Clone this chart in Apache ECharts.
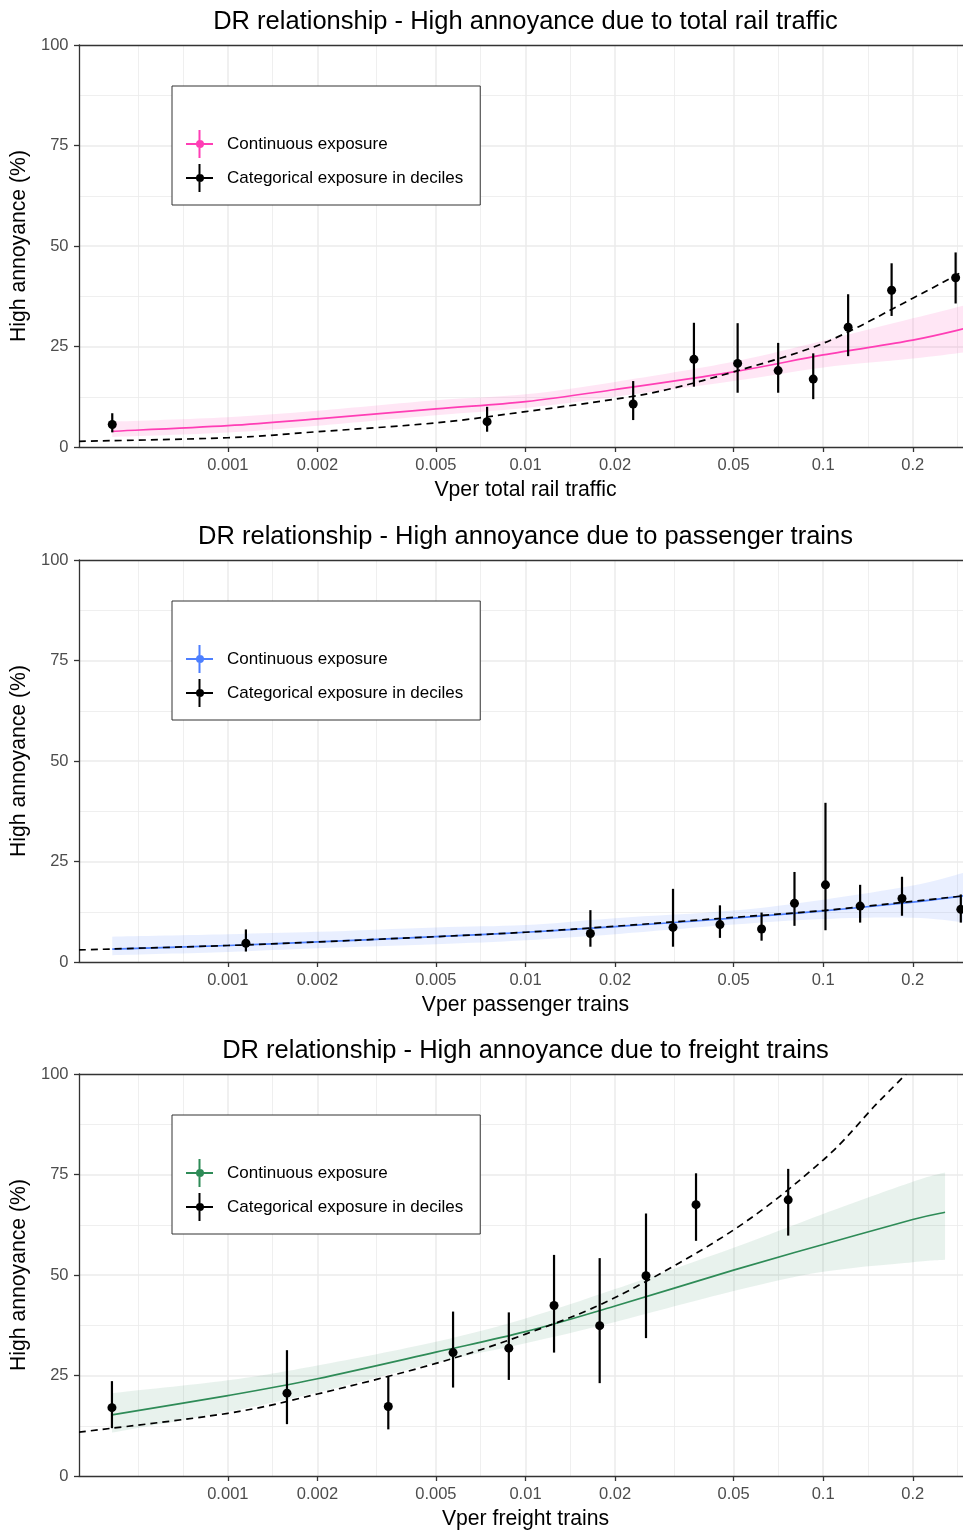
<!DOCTYPE html>
<html><head><meta charset="utf-8">
<script src="https://cdn.jsdelivr.net/npm/echarts@6/dist/echarts.min.js"></script>
<style>html,body{margin:0;padding:0;background:#fff}#c{width:963px;height:1530px}</style>
</head><body><div id="c"></div>
<script>
// ---------- data ----------
const tickValues = [0.001, 0.002, 0.005, 0.01, 0.02, 0.05, 0.1, 0.2];
const tickLabels = ['0.001', '0.002', '0.005', '0.01', '0.02', '0.05', '0.1', '0.2'];
const yTicks = [0, 25, 50, 75, 100];
const titles = ['DR relationship - High annoyance due to total rail traffic',
  'DR relationship - High annoyance due to passenger trains',
  'DR relationship - High annoyance due to freight trains'];
const xNames = ['Vper total rail traffic', 'Vper passenger trains', 'Vper freight trains'];
const yName = 'High annoyance (%)';
const legendNames = ['Continuous exposure', 'Categorical exposure in deciles'];

// Panel 1: total rail traffic
const catX1 = [0.000409, 0.00743, 0.0230, 0.0368, 0.0516, 0.0706, 0.0926, 0.1213, 0.1698, 0.2786];
const catY1 = [5.6, 6.3, 10.7, 21.8, 20.8, 19.0, 16.9, 29.8, 39.0, 42.1];
const catLo1 = [3.65, 3.8, 6.7, 15.0, 13.5, 13.5, 11.9, 22.6, 32.6, 35.7];
const catHi1 = [8.4, 10.0, 16.4, 30.9, 30.8, 25.9, 23.3, 38.0, 45.7, 48.4];
const contX1 = [0.000409, 0.001, 0.002, 0.005, 0.01, 0.02, 0.05, 0.1, 0.2, 0.3];
const contY1 = [3.9, 5.3, 7.0, 9.5, 11.3, 14.3, 18.7, 22.9, 26.6, 29.5];
const contLo1 = [2.5, 3.6, 5.3, 7.9, 9.7, 12.5, 16.4, 19.8, 22.0, 23.6];
const contHi1 = [6.3, 7.4, 9.0, 11.6, 13.1, 16.2, 21.2, 26.4, 32.0, 35.3];
const dashX1 = [0.000316, 0.001, 0.002, 0.005, 0.01, 0.02, 0.03, 0.05, 0.1, 0.2, 0.3];
const dashY1 = [1.4, 2.3, 3.8, 6.0, 8.8, 11.9, 14.3, 18.7, 25.8, 37.0, 44.0];

// Panel 2: passenger trains
const catX2 = [0.00115, 0.01652, 0.0313, 0.0450, 0.0621, 0.0801, 0.1018, 0.1331, 0.184, 0.290];
const catY2 = [4.65, 7.1, 8.6, 9.3, 8.2, 14.6, 19.2, 13.9, 15.8, 13.1];
const catLo2 = [2.6, 3.8, 3.8, 6.0, 5.3, 9.0, 7.9, 9.8, 11.5, 9.8];
const catHi2 = [8.1, 12.9, 18.2, 14.1, 12.3, 22.4, 39.6, 19.2, 21.2, 16.8];
const contX2 = [0.000409, 0.001, 0.002, 0.005, 0.01, 0.02, 0.05, 0.1, 0.2, 0.3];
const contY2 = [3.2, 4.1, 5.0, 6.3, 7.4, 8.8, 10.9, 12.7, 14.9, 16.5];
const contLo2 = [1.7, 2.5, 3.4, 4.4, 5.4, 6.9, 9.3, 10.7, 11.0, 9.8];
const contHi2 = [6.3, 6.9, 7.5, 8.6, 9.2, 10.9, 12.8, 15.5, 19.0, 22.3];
const dashX2 = [0.000316, 0.001, 0.002, 0.005, 0.01, 0.02, 0.05, 0.1, 0.2, 0.3];
const dashY2 = [3.0, 4.1, 5.0, 6.3, 7.4, 8.9, 11.1, 12.8, 15.1, 16.5];

// Panel 3: freight trains
const catX3 = [0.000408, 0.00158, 0.00346, 0.00571, 0.00879, 0.01247, 0.01775, 0.0254, 0.0374, 0.0763];
const catY3 = [17.0, 20.6, 17.3, 30.7, 31.8, 42.4, 37.4, 49.8, 67.5, 68.7];
const catLo3 = [11.9, 12.9, 11.6, 22.0, 23.9, 30.7, 23.1, 34.3, 58.5, 59.8];
const catHi3 = [23.6, 31.3, 24.9, 40.9, 40.7, 55.0, 54.2, 65.3, 75.3, 76.4];
const contX3 = [0.000408, 0.001, 0.002, 0.005, 0.01, 0.02, 0.05, 0.1, 0.2, 0.2567];
const contY3 = [15.2, 20.0, 24.2, 30.8, 35.9, 42.3, 51.2, 57.6, 63.8, 65.6];
const contLo3 = [10.8, 16.0, 20.8, 28.2, 33.0, 38.3, 46.0, 50.8, 53.2, 53.8];
const contHi3 = [20.6, 23.8, 27.5, 33.4, 39.2, 46.5, 56.8, 65.2, 73.2, 75.5];
const dashX3 = [0.000316, 0.001, 0.002, 0.005, 0.01, 0.02, 0.05, 0.1, 0.15, 0.19];
const dashY3 = [10.9, 15.6, 20.4, 28.0, 35.3, 44.4, 61.2, 78.6, 92.3, 100];

// ---------- style / layout ----------
const FONT = '"Liberation Sans", Arial, Helvetica, sans-serif';
const lineColors = ['#FF3EB5', '#4D7FFF', '#2E8B57'];
const bandColors = ['rgba(255,62,181,0.13)', 'rgba(77,127,255,0.12)', 'rgba(46,139,87,0.11)'];
const panelTop = [45, 560, 1074];
const plotH = 402, plotLeft = 79, plotW = 893;
const xMin = -3.5, xMax = -0.5;

const panels = [
  {catX: catX1, catY: catY1, catLo: catLo1, catHi: catHi1, contX: contX1, contY: contY1, contLo: contLo1, contHi: contHi1, dashX: dashX1, dashY: dashY1},
  {catX: catX2, catY: catY2, catLo: catLo2, catHi: catHi2, contX: contX2, contY: contY2, contLo: contLo2, contHi: contHi2, dashX: dashX2, dashY: dashY2},
  {catX: catX3, catY: catY3, catLo: catLo3, catHi: catHi3, contX: contX3, contY: contY3, contLo: contLo3, contHi: contHi3, dashX: dashX3, dashY: dashY3}
];

const L10 = Math.log10;
const majorLog = tickValues.map(L10);
function minorBreaks(b) {
  const n = b.length;
  const ext = [b[0] - (b[1] - b[0])].concat(b, [b[n - 1] + (b[n - 1] - b[n - 2])]);
  const out = [ext[0]];
  for (let i = 0; i < ext.length - 1; i++) out.push((ext[i] + ext[i + 1]) / 2);
  return out.filter(v => v > xMin && v < xMax);
}
const minorLog = minorBreaks(majorLog);
const fmtX = v => { const k = majorLog.findIndex(m => Math.abs(m - v) < 1e-6); return k >= 0 ? tickLabels[k] : ''; };

// Catmull-Rom smoothing through pixel points (rendering only)
function crPath(pts) {
  let d = '';
  for (let i = 0; i < pts.length - 1; i++) {
    const p0 = pts[i - 1] || pts[i], p1 = pts[i], p2 = pts[i + 1], p3 = pts[i + 2] || p2;
    const c1 = [p1[0] + (p2[0] - p0[0]) / 6, p1[1] + (p2[1] - p0[1]) / 6];
    const c2 = [p2[0] - (p3[0] - p1[0]) / 6, p2[1] - (p3[1] - p1[1]) / 6];
    d += ' C' + c1[0] + ',' + c1[1] + ' ' + c2[0] + ',' + c2[1] + ' ' + p2[0] + ',' + p2[1];
  }
  return d;
}
function curveSeries(name, xi, yi, xs, ys, z, stroke, width, dash) {
  return {type: 'custom', name: name, xAxisIndex: xi, yAxisIndex: yi, z: z, silent: true, clip: true,
    color: stroke,
    data: xs.map((x, k) => [L10(x), ys[k]]),
    encode: {x: 0, y: 1},
    renderItem: (params, api) => {
      if (params.dataIndex !== 0) return null;
      const pts = xs.map((x, k) => api.coord([L10(x), ys[k]]));
      const d = 'M' + pts[0][0] + ',' + pts[0][1] + crPath(pts);
      const style = {fill: 'none', stroke: stroke, lineWidth: width};
      if (dash) style.lineDash = dash;
      return {type: 'path', shape: {pathData: d}, style: style};
    }};
}
const ICON = 'path://M0,13H27V15H0Z M12.5,0H14.5V28H12.5Z M18,14A4,4,0,1,1,10,14A4,4,0,1,1,18,14Z';

const grid = [], xAxis = [], yAxis = [], series = [], legend = [], title = [];
const axisLineStyle = {color: '#333333', width: 1.3};
const gridLine = {color: '#EBEBEB', width: 1.5};
const gridMinor = {color: '#EBEBEB', width: 0.8};

panels.forEach((p, i) => {
  grid.push({left: plotLeft, width: plotW, top: panelTop[i], height: plotH, show: false,
    containLabel: false, outerBoundsMode: 'none'});
  title.push({text: titles[i], left: plotLeft + plotW / 2, top: panelTop[i] - 36, textAlign: 'center', padding: 0,
    textStyle: {fontSize: 25.5, fontWeight: 'normal', color: '#000', fontFamily: FONT}});
  xAxis.push({type: 'value', gridIndex: i, min: xMin, max: xMax, position: 'bottom',
    name: xNames[i], nameLocation: 'middle', nameGap: 32.5,
    nameTextStyle: {fontSize: 21.2, color: '#000', fontFamily: FONT},
    axisLine: {show: true, onZero: false, lineStyle: axisLineStyle},
    axisTick: {show: true, customValues: majorLog, length: 5, lineStyle: axisLineStyle},
    axisLabel: {customValues: majorLog, formatter: fmtX, fontSize: 16.5, color: '#4D4D4D', fontFamily: FONT, margin: 9.5},
    splitLine: {show: true, lineStyle: gridLine}});
  xAxis.push({type: 'value', gridIndex: i, min: xMin, max: xMax, position: 'top',
    axisLine: {show: true, onZero: false, lineStyle: axisLineStyle},
    axisTick: {show: false, customValues: minorLog}, axisLabel: {show: false},
    splitLine: {show: true, lineStyle: gridMinor}});
  yAxis.push({type: 'value', gridIndex: i, min: yTicks[0], max: yTicks[yTicks.length - 1], interval: 25,
    name: yName, nameLocation: 'middle', nameGap: 39, nameRotate: 90,
    nameTextStyle: {fontSize: 21.2, color: '#000', fontFamily: FONT},
    axisLine: {show: true, onZero: false, lineStyle: axisLineStyle},
    axisTick: {show: true, length: 5, lineStyle: axisLineStyle},
    axisLabel: {fontSize: 16.5, color: '#4D4D4D', fontFamily: FONT, margin: 10.5},
    splitLine: {show: true, showMinLine: false, showMaxLine: false, lineStyle: gridLine},
    minorTick: {show: false, splitNumber: 2},
    minorSplitLine: {show: true, lineStyle: gridMinor}});

  const xi = 2 * i, yi = i;
  const contName = legendNames[0] + '|' + i, catName = legendNames[1] + '|' + i;
  // confidence band
  series.push({type: 'custom', xAxisIndex: xi, yAxisIndex: yi, z: 1, silent: true, clip: true,
    data: p.contX.map((x, k) => [L10(x), p.contLo[k], p.contHi[k]]),
    encode: {x: 0, y: [1, 2]},
    renderItem: (params, api) => {
      if (params.dataIndex !== 0) return null;
      const up = p.contX.map((x, k) => api.coord([L10(x), p.contHi[k]]));
      const lo = p.contX.map((x, k) => api.coord([L10(x), p.contLo[k]])).reverse();
      const d = 'M' + up[0][0] + ',' + up[0][1] + crPath(up) + ' L' + lo[0][0] + ',' + lo[0][1] + crPath(lo) + ' Z';
      return {type: 'path', shape: {pathData: d}, style: {fill: bandColors[i], stroke: null}};
    }});
  // continuous exposure fit
  series.push(curveSeries(contName, xi, yi, p.contX, p.contY, 2, lineColors[i], 1.7, null));
  // categorical fit (dashed)
  series.push(curveSeries('dash' + i, xi, yi, p.dashX, p.dashY, 2, '#000', 1.7, [7, 5]));
  // error bars
  series.push({type: 'custom', xAxisIndex: xi, yAxisIndex: yi, z: 3, silent: true, clip: true,
    data: p.catX.map((x, k) => [L10(x), p.catLo[k], p.catHi[k]]),
    encode: {x: 0, y: [1, 2]},
    renderItem: (params, api) => {
      const a = api.coord([api.value(0), api.value(1)]);
      const b = api.coord([api.value(0), api.value(2)]);
      return {type: 'line', shape: {x1: a[0], y1: a[1], x2: b[0], y2: b[1]}, style: {stroke: '#000', lineWidth: 2.2}};
    }});
  // points
  series.push({type: 'scatter', name: catName, xAxisIndex: xi, yAxisIndex: yi, z: 3, symbolSize: 9,
    color: '#000', itemStyle: {color: '#000', opacity: 1}, silent: true,
    data: p.catX.map((x, k) => [L10(x), p.catY[k]])});

  legend.push({orient: 'vertical', left: 172, top: panelTop[i] + 41, z: 10, selectedMode: false,
    padding: [44, 17, 13, 14], itemGap: 6, itemWidth: 27, itemHeight: 28,
    borderColor: '#333333', borderWidth: 1, backgroundColor: '#fff',
    itemStyle: {borderWidth: 0},
    formatter: n => n.split('|')[0],
    textStyle: {fontSize: 17, color: '#000', fontFamily: FONT, padding: [0, 0, 0, 9]},
    data: [{name: contName, icon: ICON, itemStyle: {color: lineColors[i], borderWidth: 0, opacity: 1}},
           {name: catName, icon: ICON, itemStyle: {color: '#000', borderWidth: 0, opacity: 1}}]});
});

const chart = echarts.init(document.getElementById('c'), null, {renderer: 'canvas'});
chart.setOption({animation: false, backgroundColor: '#fff', title, grid, xAxis, yAxis, legend, series});
</script></body></html>
